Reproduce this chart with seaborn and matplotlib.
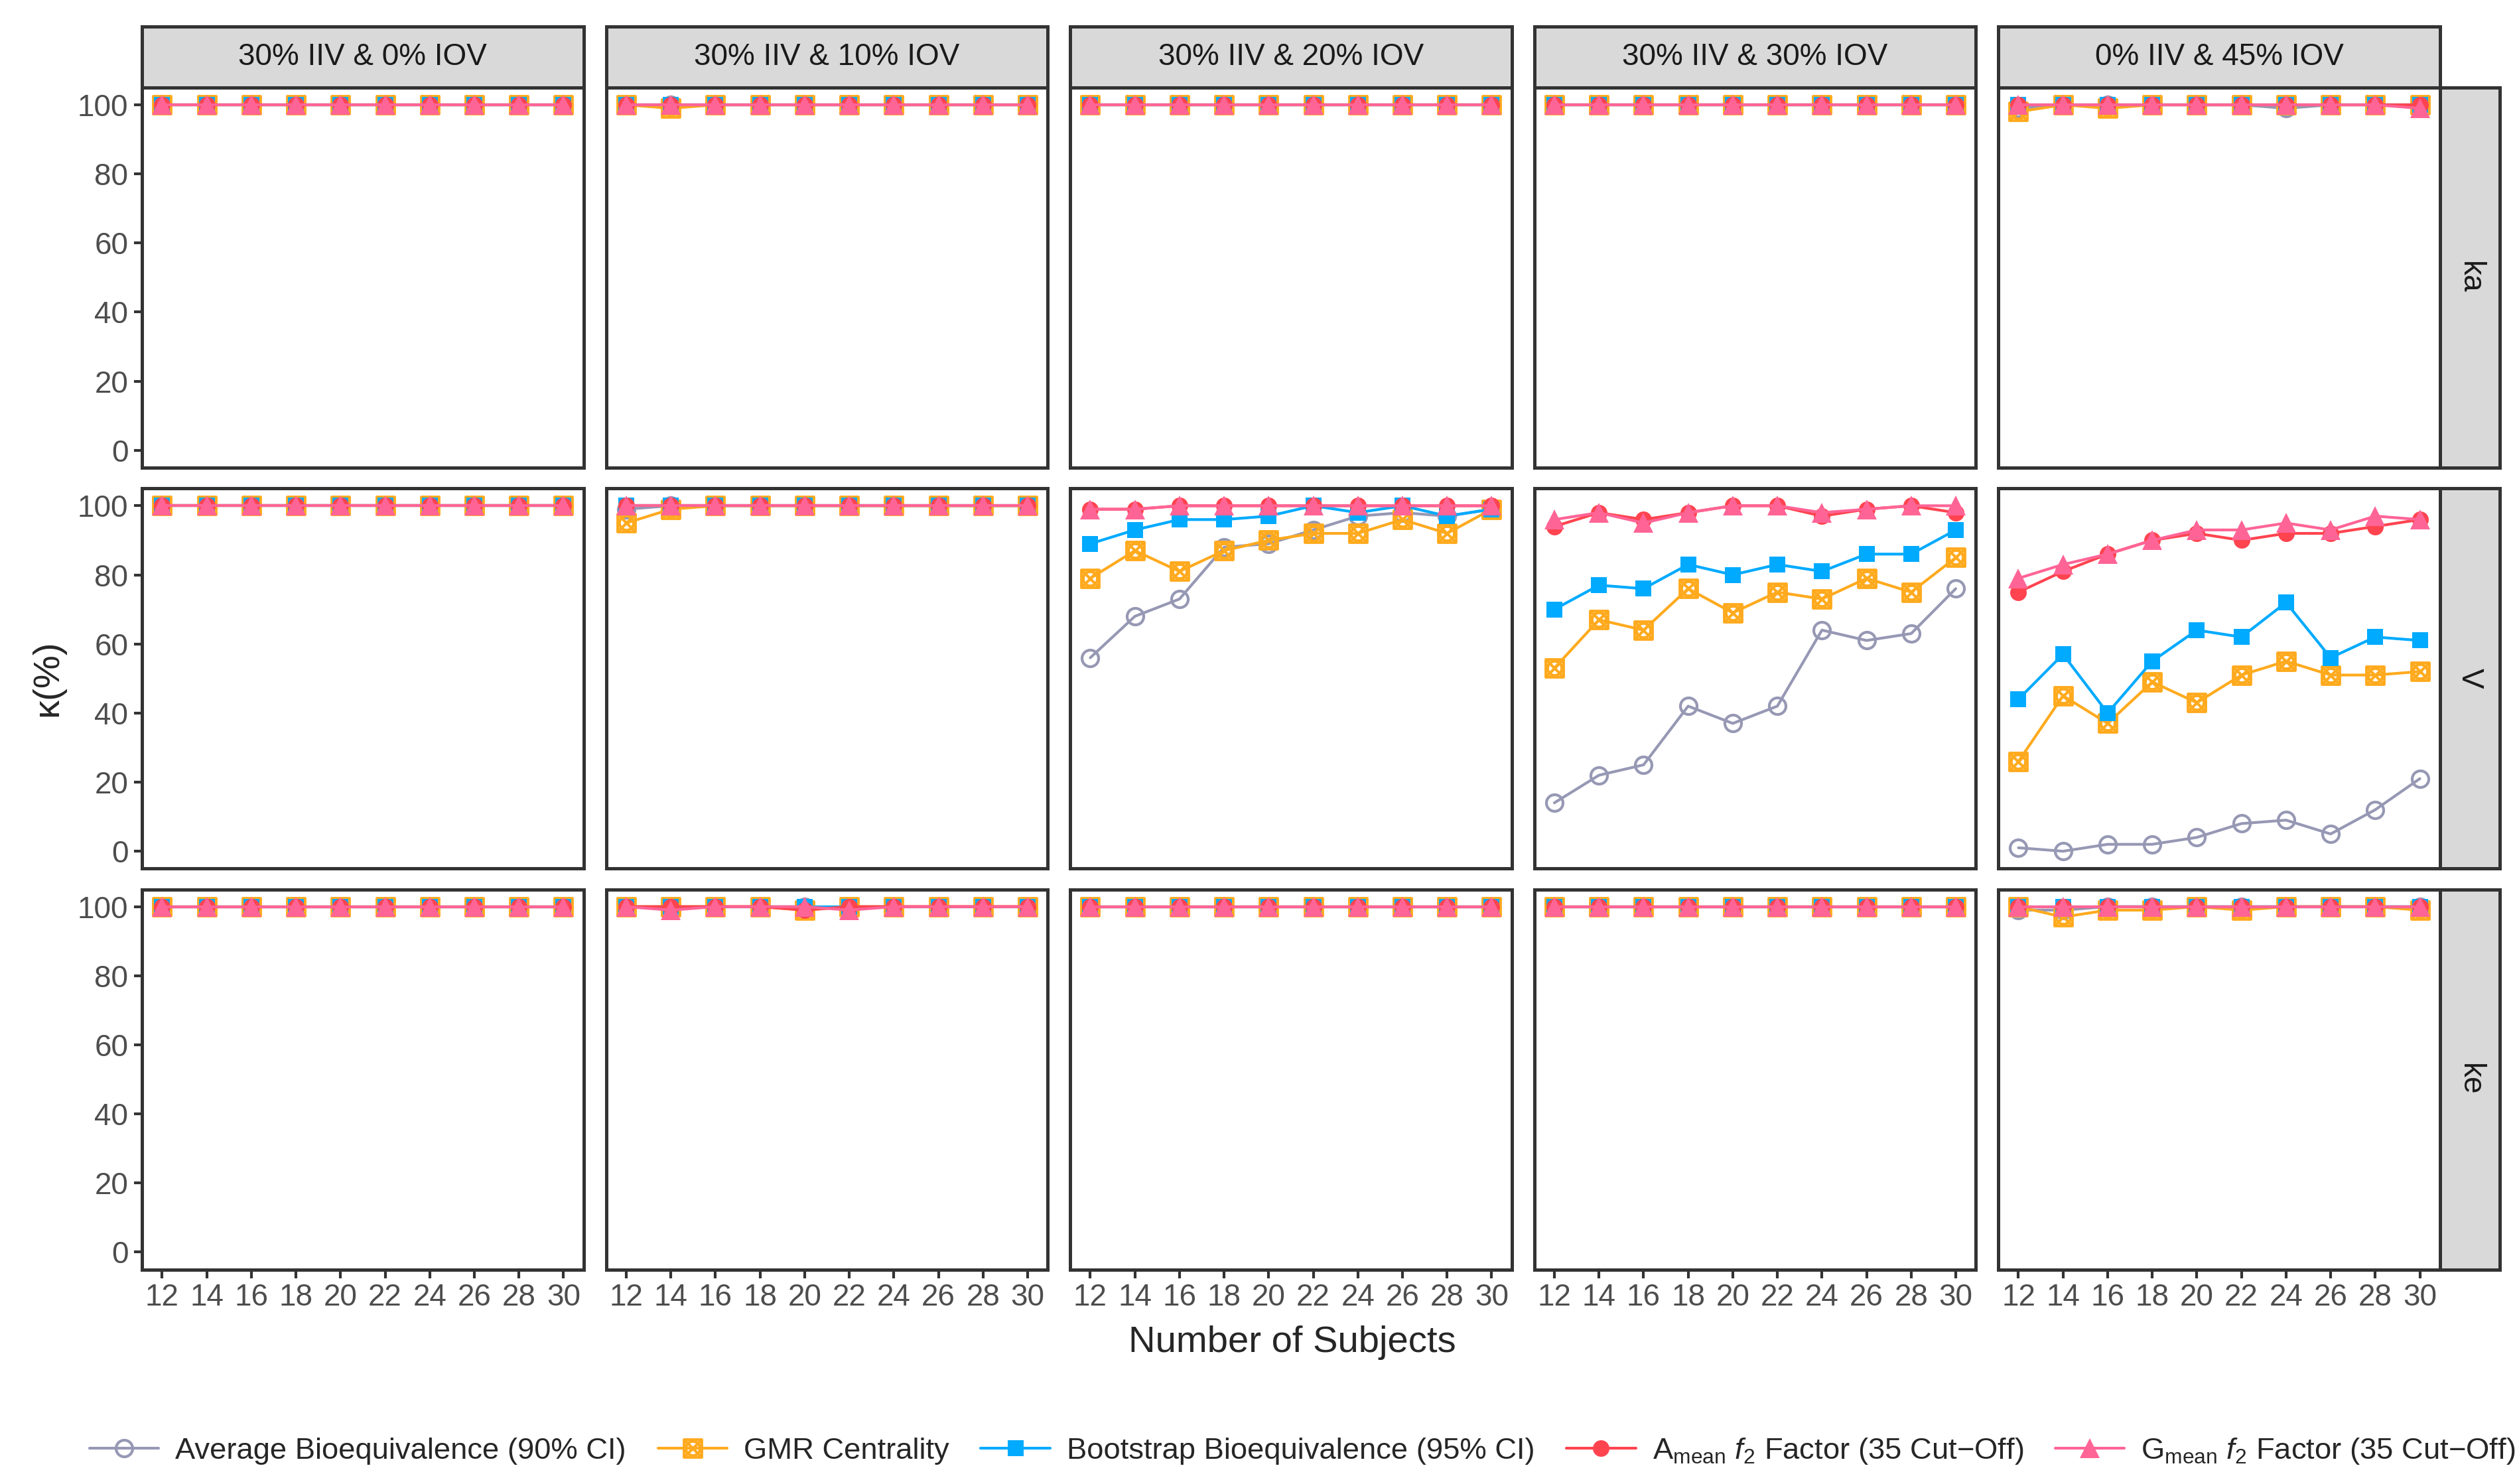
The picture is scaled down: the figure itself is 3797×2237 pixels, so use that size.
import numpy as np
import pandas as pd
import matplotlib
matplotlib.use("Agg")
import matplotlib.pyplot as plt
from matplotlib.path import Path
from matplotlib.lines import Line2D
import seaborn as sns

# ---------------------------
# data (kappa %)
# ---------------------------
subjects = [12, 14, 16, 18, 20, 22, 24, 26, 28, 30]
scenarios = ["30% IIV & 0% IOV", "30% IIV & 10% IOV", "30% IIV & 20% IOV",
             "30% IIV & 30% IOV", "0% IIV & 45% IOV"]
params = ["ka", "V", "ke"]
methods = ["Average Bioequivalence (90% CI)", "GMR Centrality",
           "Bootstrap Bioequivalence (95% CI)",
           "A$_{\\mathrm{mean}}$ $f_2$ Factor (35 Cut\u2212Off)",
           "G$_{\\mathrm{mean}}$ $f_2$ Factor (35 Cut\u2212Off)"]

# ka row
ka_abe = [[100, 100, 100, 100, 100, 100, 100, 100, 100, 100],
          [100, 100, 100, 100, 100, 100, 100, 100, 100, 100],
          [100, 100, 100, 100, 100, 100, 100, 100, 100, 100],
          [100, 100, 100, 100, 100, 100, 100, 100, 100, 100],
          [99, 100, 100, 100, 100, 100, 99, 100, 100, 100]]
ka_gmr = [[100, 100, 100, 100, 100, 100, 100, 100, 100, 100],
          [100, 99, 100, 100, 100, 100, 100, 100, 100, 100],
          [100, 100, 100, 100, 100, 100, 100, 100, 100, 100],
          [100, 100, 100, 100, 100, 100, 100, 100, 100, 100],
          [98, 100, 99, 100, 100, 100, 100, 100, 100, 100]]
ka_boot = [[100, 100, 100, 100, 100, 100, 100, 100, 100, 100],
           [100, 100, 100, 100, 100, 100, 100, 100, 100, 100],
           [100, 100, 100, 100, 100, 100, 100, 100, 100, 100],
           [100, 100, 100, 100, 100, 100, 100, 100, 100, 100],
           [100, 100, 100, 100, 100, 100, 100, 100, 100, 100]]
ka_amean = [[100, 100, 100, 100, 100, 100, 100, 100, 100, 100],
            [100, 100, 100, 100, 100, 100, 100, 100, 100, 100],
            [100, 100, 100, 100, 100, 100, 100, 100, 100, 100],
            [100, 100, 100, 100, 100, 100, 100, 100, 100, 100],
            [100, 100, 100, 100, 100, 100, 100, 100, 100, 100]]
ka_gmean = [[100, 100, 100, 100, 100, 100, 100, 100, 100, 100],
            [100, 100, 100, 100, 100, 100, 100, 100, 100, 100],
            [100, 100, 100, 100, 100, 100, 100, 100, 100, 100],
            [100, 100, 100, 100, 100, 100, 100, 100, 100, 100],
            [100, 100, 100, 100, 100, 100, 100, 100, 100, 99]]

# V row
v_abe = [[100, 100, 100, 100, 100, 100, 100, 100, 100, 100],
         [99, 100, 100, 100, 100, 100, 100, 100, 100, 100],
         [56, 68, 73, 88, 89, 93, 97, 98, 97, 99],
         [14, 22, 25, 42, 37, 42, 64, 61, 63, 76],
         [1, 0, 2, 2, 4, 8, 9, 5, 12, 21]]
v_gmr = [[100, 100, 100, 100, 100, 100, 100, 100, 100, 100],
         [95, 99, 100, 100, 100, 100, 100, 100, 100, 100],
         [79, 87, 81, 87, 90, 92, 92, 96, 92, 99],
         [53, 67, 64, 76, 69, 75, 73, 79, 75, 85],
         [26, 45, 37, 49, 43, 51, 55, 51, 51, 52]]
v_boot = [[100, 100, 100, 100, 100, 100, 100, 100, 100, 100],
          [100, 100, 100, 100, 100, 100, 100, 100, 100, 100],
          [89, 93, 96, 96, 97, 100, 98, 100, 97, 99],
          [70, 77, 76, 83, 80, 83, 81, 86, 86, 93],
          [44, 57, 40, 55, 64, 62, 72, 56, 62, 61]]
v_amean = [[100, 100, 100, 100, 100, 100, 100, 100, 100, 100],
           [100, 100, 100, 100, 100, 100, 100, 100, 100, 100],
           [99, 99, 100, 100, 100, 100, 100, 100, 100, 100],
           [94, 98, 96, 98, 100, 100, 97, 99, 100, 98],
           [75, 81, 86, 90, 92, 90, 92, 92, 94, 96]]
v_gmean = [[100, 100, 100, 100, 100, 100, 100, 100, 100, 100],
           [100, 100, 100, 100, 100, 100, 100, 100, 100, 100],
           [99, 99, 100, 100, 100, 100, 100, 100, 100, 100],
           [96, 98, 95, 98, 100, 100, 98, 99, 100, 100],
           [79, 83, 86, 90, 93, 93, 95, 93, 97, 96]]

# ke row
ke_abe = [[100, 100, 100, 100, 100, 100, 100, 100, 100, 100],
          [100, 100, 100, 100, 100, 100, 100, 100, 100, 100],
          [100, 100, 100, 100, 100, 100, 100, 100, 100, 100],
          [100, 100, 100, 100, 100, 100, 100, 100, 100, 100],
          [99, 99, 100, 100, 100, 100, 100, 100, 100, 100]]
ke_gmr = [[100, 100, 100, 100, 100, 100, 100, 100, 100, 100],
          [100, 100, 100, 100, 99, 100, 100, 100, 100, 100],
          [100, 100, 100, 100, 100, 100, 100, 100, 100, 100],
          [100, 100, 100, 100, 100, 100, 100, 100, 100, 100],
          [100, 97, 99, 99, 100, 99, 100, 100, 100, 99]]
ke_boot = [[100, 100, 100, 100, 100, 100, 100, 100, 100, 100],
           [100, 100, 100, 100, 100, 100, 100, 100, 100, 100],
           [100, 100, 100, 100, 100, 100, 100, 100, 100, 100],
           [100, 100, 100, 100, 100, 100, 100, 100, 100, 100],
           [100, 100, 100, 100, 100, 100, 100, 100, 100, 100]]
ke_amean = [[100, 100, 100, 100, 100, 100, 100, 100, 100, 100],
            [100, 100, 100, 100, 99, 100, 100, 100, 100, 100],
            [100, 100, 100, 100, 100, 100, 100, 100, 100, 100],
            [100, 100, 100, 100, 100, 100, 100, 100, 100, 100],
            [100, 100, 100, 100, 100, 100, 100, 100, 100, 100]]
ke_gmean = [[100, 100, 100, 100, 100, 100, 100, 100, 100, 100],
            [100, 99, 100, 100, 100, 99, 100, 100, 100, 100],
            [100, 100, 100, 100, 100, 100, 100, 100, 100, 100],
            [100, 100, 100, 100, 100, 100, 100, 100, 100, 100],
            [100, 100, 100, 100, 100, 100, 100, 100, 100, 100]]

table = {
    "ka": [ka_abe, ka_gmr, ka_boot, ka_amean, ka_gmean],
    "V": [v_abe, v_gmr, v_boot, v_amean, v_gmean],
    "ke": [ke_abe, ke_gmr, ke_boot, ke_amean, ke_gmean],
}

rows = []
for p in params:
    for m, series in zip(methods, table[p]):
        for s, vals in zip(scenarios, series):
            for n, v in zip(subjects, vals):
                rows.append((p, s, m, n, v))
df = pd.DataFrame(rows, columns=["param", "scenario", "method", "n", "kappa"])

# ---------------------------
# styling
# ---------------------------
sns.set_theme(style="white")
plt.rcParams["font.family"] = ["Liberation Sans", "DejaVu Sans"]
plt.rcParams["mathtext.fontset"] = "custom"
plt.rcParams["mathtext.rm"] = "Liberation Sans"
plt.rcParams["mathtext.it"] = "Liberation Sans:italic"

# boxed cross marker (square + X + circle)
box_x = Path.make_compound_path(
    Path([(-1, -1), (1, -1), (1, 1), (-1, 1), (-1, -1)],
         [Path.MOVETO, Path.LINETO, Path.LINETO, Path.LINETO, Path.CLOSEPOLY]),
    Path([(-1, -1), (1, 1)]),
    Path([(-1, 1), (1, -1)]),
    Path.circle((0, 0), 0.8),
)

colors = ["#9698B4", "#FFAA1E", "#00AAFF", "#FF4450", "#FF6496"]
marker_kw = [
    dict(marker="o", markersize=6.0, markerfacecolor="none", markeredgewidth=1.0),
    dict(marker=box_x, markersize=6.4, markerfacecolor="none", markeredgewidth=1.0),
    dict(marker="s", markersize=5.8, markeredgewidth=0),
    dict(marker="o", markersize=6.0, markeredgewidth=0),
    dict(marker="^", markersize=7.4, markeredgewidth=0),
]
line_w = 1.0
border = "#333333"

fig = plt.figure(figsize=(3797 / 300, 2237 / 300), dpi=300)
axes = fig.subplots(3, 5, sharex=True, sharey=True)
fig.subplots_adjust(left=0.0564, right=0.9686, top=0.941, bottom=0.1446,
                    wspace=0.051, hspace=0.055)

for i, p in enumerate(params):
    for j, s in enumerate(scenarios):
        ax = axes[i, j]
        for k, m in enumerate(methods):
            sub = df[(df.param == p) & (df.scenario == s) & (df.method == m)]
            kw = dict(marker_kw[k])
            kw.setdefault("markeredgecolor", colors[k])
            sns.lineplot(data=sub, x="n", y="kappa", ax=ax, color=colors[k],
                         linewidth=line_w, legend=False, zorder=2 + k, **kw)
        ax.set_xlim(11.1, 30.9)
        ax.set_ylim(-5, 105)
        ax.set_xticks(subjects)
        ax.set_yticks([0, 20, 40, 60, 80, 100])
        ax.set_xlabel("")
        ax.set_ylabel("")
        ax.grid(False)
        for sp in ax.spines.values():
            sp.set_color(border)
            sp.set_linewidth(1.2)
        ax.tick_params(axis="both", which="both", direction="out", length=3,
                       width=1.0, color=border, labelcolor="#4D4D4D",
                       labelsize=11, pad=2, bottom=(i == 2), left=(j == 0))

# strips
for j, s in enumerate(scenarios):
    pos = axes[0, j].get_position()
    st = fig.add_axes([pos.x0, pos.y1, pos.width, 0.0413])
    st.set_facecolor("#D9D9D9")
    st.set_xticks([])
    st.set_yticks([])
    for sp in st.spines.values():
        sp.set_color(border)
        sp.set_linewidth(1.2)
    st.text(0.5, 0.5, s, ha="center", va="center", fontsize=11,
            color="#1A1A1A", transform=st.transAxes)

for i, p in enumerate(params):
    pos = axes[i, 4].get_position()
    st = fig.add_axes([pos.x1, pos.y0, 0.0237, pos.height])
    st.set_facecolor("#D9D9D9")
    st.set_xticks([])
    st.set_yticks([])
    for sp in st.spines.values():
        sp.set_color(border)
        sp.set_linewidth(1.2)
    st.text(0.5, 0.5, p, ha="center", va="center", fontsize=11, rotation=-90,
            color="#1A1A1A", transform=st.transAxes)

fig.text(0.513, 0.095, "Number of Subjects", ha="center", va="center",
         fontsize=13.5)
fig.text(0.019, 0.543, "\u03ba(%)", ha="center", va="center", rotation=90,
         fontsize=13.5)

handles = []
for k, m in enumerate(methods):
    kw = dict(marker_kw[k])
    kw.setdefault("markeredgecolor", colors[k])
    handles.append(Line2D([], [], color=colors[k], linewidth=line_w, **kw))
fig.legend(handles, methods, loc="center", bbox_to_anchor=(0.517, 0.022),
           ncol=5, frameon=False, fontsize=10.9, handlelength=2.3,
           columnspacing=1.05, handletextpad=0.55)

fig.savefig("out.png", dpi=300, facecolor="white")
print("Saved: out.png")
